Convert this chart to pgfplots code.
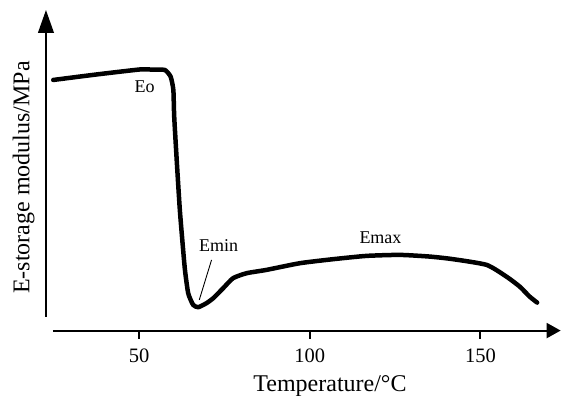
\documentclass[border=0pt]{standalone}
\usepackage{pgfplots}
\pgfplotsset{compat=1.18}
\usepackage{fontspec}
\setmainfont{Liberation Serif}
\usetikzlibrary{arrows.meta}
\begin{document}
\begin{tikzpicture}
\begin{axis}[
  scale only axis,
  width=514.9pt, height=320.7pt,
  xmin=22.67, xmax=173.5, ymin=0, ymax=320.7,
  axis x line=bottom, axis y line=none,
  x axis line style={draw=none},
  xtick={50,100,150}, ytick=\empty,
  xtick align=outside,
  major tick length=8pt,
  tick style={line width=2pt, black},
  /pgf/number format/assume math mode=true,
  xticklabel style={font=\fontsize{20.5}{24}\selectfont, anchor=base, yshift=-24pt},
  clip=false,
]
\addplot[black, line width=4.5pt, line join=round, line cap=round, smooth, tension=0.35] coordinates {
(24.8,250.7) (37,256) (50.2,261.2) (54,261) (57.5,260.7) (59.2,254) (60.0,240.7)
(60.25,214) (61.1,164) (61.9,120.7) (62.7,87.4) (63.4,60.7) (64.35,37.4) (65.8,25.7)
(67.3,23.4) (69.7,27.4) (71.7,32.4) (74.6,42.4) (77.5,52.4) (81.5,57.4) (87.3,60.7)
(97.1,67.4) (106.8,71.4) (116.6,74.7) (126.4,75.7) (135.2,74) (142.0,71.4) (151.8,65.7)
(157.6,54) (161.5,44) (164.4,34) (166.6,28)
};
\draw[line width=2pt, -{Triangle[length=23pt,width=15.7pt]}] (axis cs:22.67,13.7) -- (axis cs:22.67,320.7);
\draw[line width=2pt, -{Triangle[length=14pt,width=15pt]}] (axis cs:24.7,0) -- (axis cs:173.5,0);
\draw[line width=0.9pt] (axis cs:71.2,70.7) -- (axis cs:67.6,30.7);
\node[anchor=base, font=\fontsize{18}{22}\selectfont, inner sep=0pt] at (axis cs:51.6,238) {Eo};
\node[anchor=base, font=\fontsize{18}{22}\selectfont, inner sep=0pt] at (axis cs:73.3,79) {Emin};
\node[anchor=base, font=\fontsize{18}{22}\selectfont, inner sep=0pt] at (axis cs:120.7,86.7) {Emax};
\node[anchor=base, font=\fontsize{24}{28}\selectfont, inner sep=0pt] at (axis cs:105.9,-61) {Temperature/°C};
\node[anchor=base, rotate=90, font=\fontsize{24}{28}\selectfont, inner sep=0pt] at (axis cs:17.8,153.2) {E-storage modulus/MPa};
\coordinate (bl) at (axis cs:9.2,-65.3);
\coordinate (tr) at (axis cs:173.6,330.7);
\end{axis}
\pgfresetboundingbox
\path (bl) rectangle (tr);
\end{tikzpicture}
\end{document}
